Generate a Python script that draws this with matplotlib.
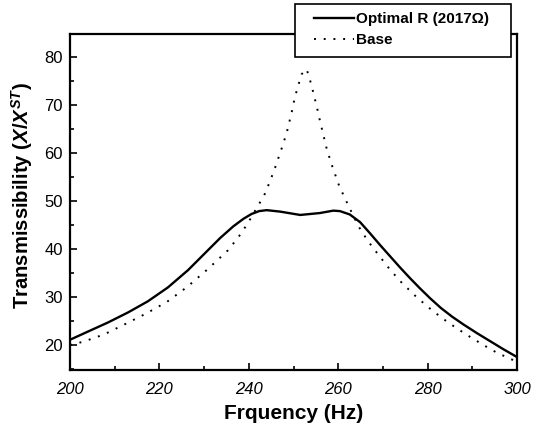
import matplotlib
matplotlib.use("Agg")
import matplotlib.pyplot as plt
from matplotlib.ticker import MultipleLocator
from matplotlib.patches import Rectangle

plt.rcParams['font.family'] = ['Liberation Sans', 'DejaVu Sans']
plt.rcParams['mathtext.fontset'] = 'custom'
plt.rcParams['mathtext.it'] = 'Liberation Sans:bold:italic'
plt.rcParams['mathtext.rm'] = 'Liberation Sans:bold'

# Optimal R curve
opt_f = [200, 204, 208.5, 213, 217.4, 221.9, 226.4, 230.8, 233.6, 236.5, 238.8, 240.6,
         242.3, 244, 247, 251.5, 255.9, 258.9, 260.4, 262.6, 264.9, 267.1, 269.4, 271.6,
         273.8, 276.1, 278.3, 280.5, 283, 285.5, 288, 291, 294, 297, 300]
opt_t = [21.0, 22.7, 24.6, 26.7, 29.0, 31.9, 35.5, 39.6, 42.2, 44.6, 46.2, 47.2,
         47.8, 48.0, 47.7, 47.0, 47.4, 47.9, 47.8, 47.1, 45.5, 43.2, 40.7, 38.4,
         36.1, 33.8, 31.7, 29.7, 27.6, 25.8, 24.2, 22.4, 20.7, 19.0, 17.4]

# Base curve
base_f = [200, 203, 207.6, 212.2, 216.9, 221.7, 226.2, 230.8, 235.3, 237.7, 239.8,
          241.6, 243.4, 244.7, 245.9, 247.4, 248.5, 249.6, 250.3, 251.2, 251.8, 252.9,
          253.5, 254.4, 255.2, 255.9, 256.7, 257.4, 258.5, 260.2, 262.3, 264.5, 266.7,
          269, 271.6, 274.2, 277.4, 280.4, 283.4, 286.5, 289.5, 292.5, 295.5, 300]
base_t = [19.9, 20.6, 22.1, 24.2, 26.4, 28.9, 32.0, 35.7, 39.6, 42.4, 45.3,
          48.2, 51.0, 53.9, 56.9, 61.0, 64.2, 68.4, 71.5, 74.4, 76.3, 77.4,
          75.8, 72.6, 69.6, 66.7, 63.6, 60.9, 57.6, 53.1, 48.9, 44.7, 41.5,
          38.7, 35.6, 32.9, 30.0, 27.6, 25.4, 23.4, 21.6, 19.9, 18.3, 16.4]

xticks = [200, 220, 240, 260, 280, 300]
yticks = [20, 30, 40, 50, 60, 70, 80]

W, H = 542, 426
fig = plt.figure(figsize=(W / 100, H / 100), dpi=100)
ax = fig.add_axes([70 / W, 1 - 370 / H, 447 / W, 336 / H])

l1, = ax.plot(opt_f, opt_t, color='black', lw=1.7, label='Optimal R (2017\u03a9)')
l2, = ax.plot(base_f, base_t, color='black', lw=1.4, linestyle=(0, (1, 4)), label='Base')

ax.set_xlim(200, 300)
ax.set_ylim(14.7, 84.7)
ax.set_xticks(xticks)
ax.set_yticks(yticks)
ax.xaxis.set_minor_locator(MultipleLocator(10))
ax.yaxis.set_minor_locator(MultipleLocator(5))
ax.tick_params(which='both', direction='in', top=False, right=False, width=1.2)
ax.tick_params(which='major', length=5, labelsize=12)
ax.tick_params(which='minor', length=3)
ax.tick_params(axis='x', pad=9)
ax.tick_params(axis='y', pad=5)
for lab in ax.get_xticklabels():
    lab.set_fontstyle('italic')
for s in ax.spines.values():
    s.set_linewidth(1.6)

ax.set_xlabel('Frquency (Hz)', fontsize=15, fontweight='bold', labelpad=5)
ax.set_ylabel(r'Transmissibility ($X/X^{ST}$)', fontsize=14.6, fontweight='bold')
ax.yaxis.set_label_coords(-0.079, 0.52)

# legend box
box = Rectangle((295 / W, 1 - 57 / H), 216 / W, 53 / H, transform=fig.transFigure,
                facecolor='white', edgecolor='black', lw=1.2, zorder=5)
fig.add_artist(box)
leg = fig.legend(handles=[l1, l2], loc='upper left', bbox_to_anchor=(314 / W, 1 - 12 / H),
                 prop={'weight': 'bold', 'size': 11}, frameon=False,
                 handlelength=2.6, handletextpad=0.15, borderpad=0, borderaxespad=0,
                 labelspacing=0.45)
leg.set_zorder(6)

fig.savefig('out.png', dpi=100)
